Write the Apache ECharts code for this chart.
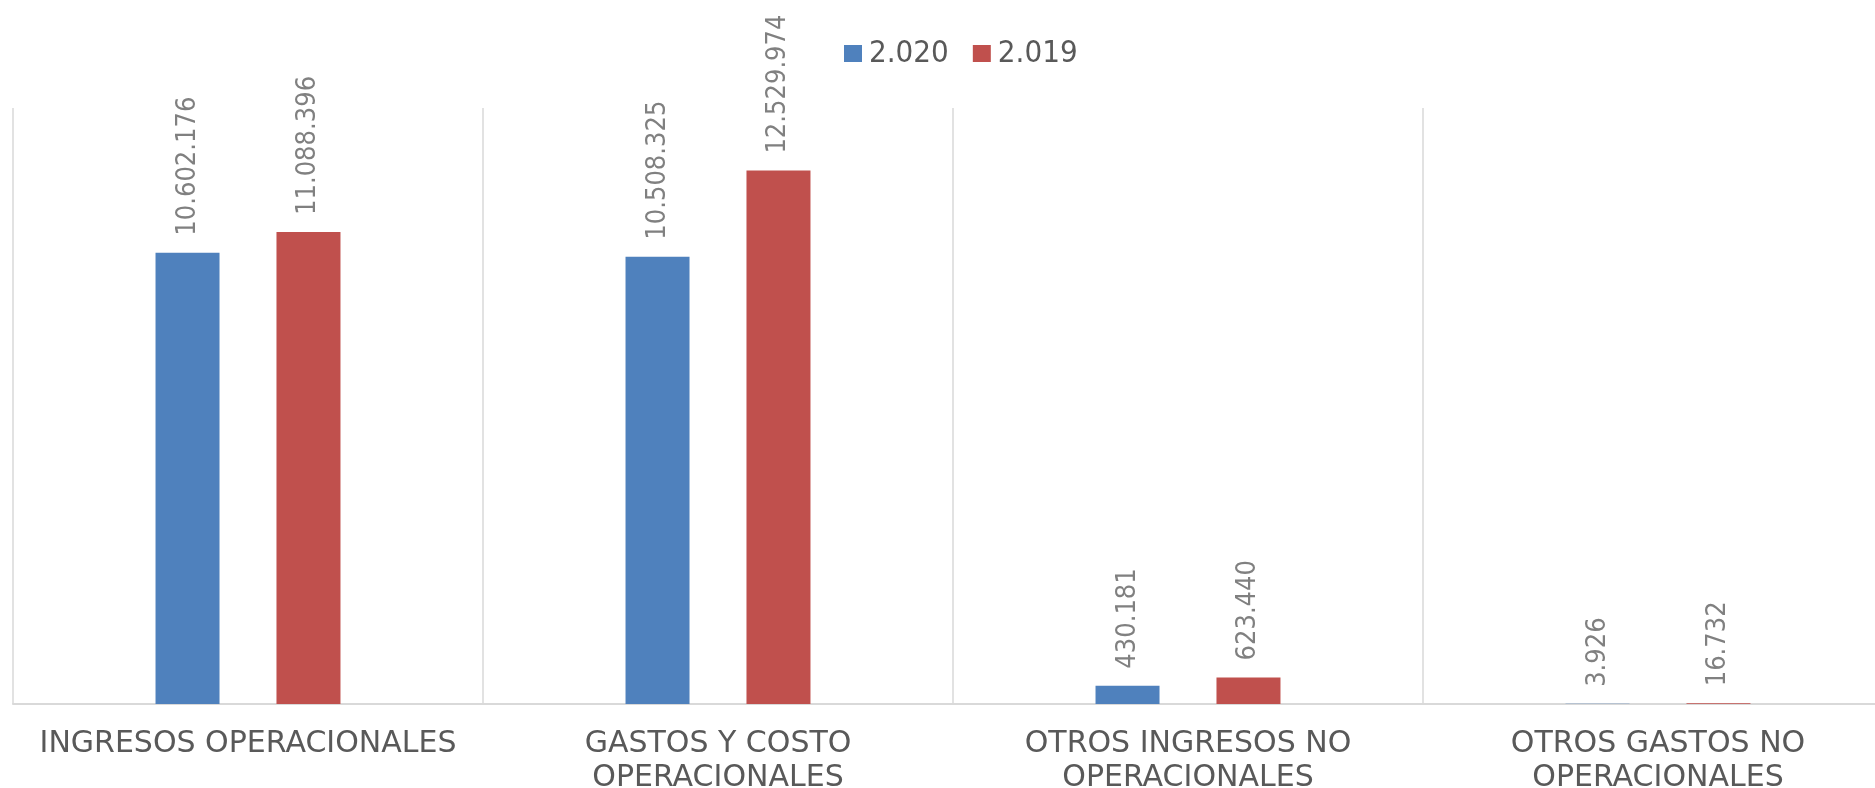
<!DOCTYPE html>
<html>
<head>
<meta charset="utf-8">
<style>
  html, body { margin: 0; padding: 0; background: #fff; }
  #chart { width: 1875px; height: 788px; }
</style>
<script src="https://cdn.jsdelivr.net/npm/echarts@6/dist/echarts.min.js"></script>
</head>
<body>
<div id="chart"></div>
<script>
const categories = [
  'INGRESOS OPERACIONALES',
  'GASTOS Y COSTO\nOPERACIONALES',
  'OTROS INGRESOS NO\nOPERACIONALES',
  'OTROS GASTOS NO\nOPERACIONALES'
]
const seriesNames = ['2.020', '2.019']
const values2020 = [10602176, 10508325, 430181, 3926]
const values2019 = [11088396, 12529974, 623440, 16732]

const colors = ['#4f81bd', '#c0504d']

function formatThousands(v) {
  return String(v).replace(/\B(?=(\d{3})+(?!\d))/g, '.')
}

const chart = echarts.init(document.getElementById('chart'))

const valueLabel = {
  show: true,
  position: 'top',
  rotate: 90,
  align: 'left',
  verticalAlign: 'middle',
  distance: 17,
  color: '#808080',
  fontFamily: '"DejaVu Sans Condensed", "DejaVu Sans", sans-serif',
  fontSize: 27,
  formatter: p => formatThousands(p.value)
}

chart.setOption({
  animation: false,
  backgroundColor: '#fff',
  legend: {
    left: 839,
    top: 33,
    itemWidth: 18,
    itemHeight: 17,
    itemGap: 24,
    icon: 'rect',
    textStyle: {
      color: '#595959',
      fontFamily: '"DejaVu Sans Condensed", "DejaVu Sans", sans-serif',
      fontSize: 31,
      padding: [0, 0, 0, 2]
    },
    data: seriesNames
  },
  grid: {
    left: 13,
    top: 108,
    bottom: 84,
    width: 1880,
    containLabel: false,
    outerBoundsMode: 'none'
  },
  xAxis: {
    type: 'category',
    data: categories,
    axisTick: { show: false },
    axisLine: { lineStyle: { color: '#d9d9d9', width: 2 } },
    splitLine: { show: true, lineStyle: { color: '#d9d9d9', width: 1.5 } },
    axisLabel: {
      interval: 0,
      margin: 23,
      color: '#595959',
      fontFamily: '"DejaVu Sans", sans-serif',
      fontSize: 30,
      lineHeight: 34
    }
  },
  yAxis: {
    type: 'value',
    min: 0,
    max: 14000000,
    show: false,
    splitLine: { show: false }
  },
  series: [
    {
      name: seriesNames[0],
      type: 'bar',
      data: values2020,
      barWidth: 64,
      barGap: '89%',
      itemStyle: { color: colors[0] },
      label: valueLabel
    },
    {
      name: seriesNames[1],
      type: 'bar',
      data: values2019,
      barWidth: 64,
      barGap: '89%',
      itemStyle: { color: colors[1] },
      label: valueLabel
    }
  ]
})
</script>
</body>
</html>
